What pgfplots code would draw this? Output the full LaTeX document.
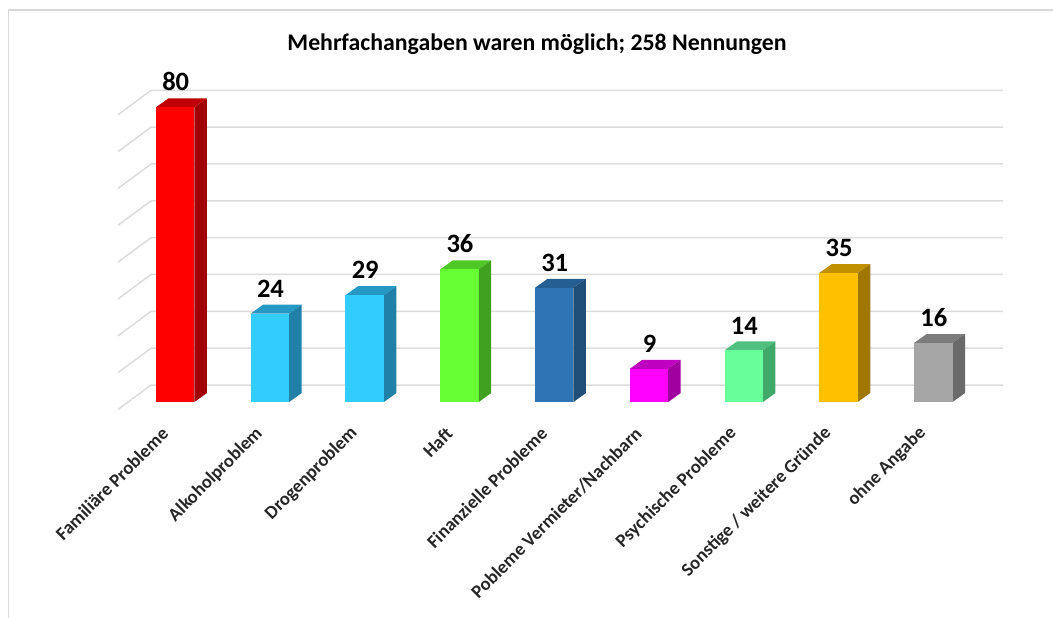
\documentclass[border=0pt]{standalone}
\usepackage{fontspec}
\setmainfont{Carlito}
\usepackage{pgfplots}
\pgfplotsset{compat=1.18}
\definecolor{gridc}{HTML}{DCDCDC}
\definecolor{framec}{HTML}{D9D9D9}
\definecolor{af}{HTML}{FF0000}\definecolor{at}{HTML}{C00000}\definecolor{as}{HTML}{A00000}
\definecolor{bf}{HTML}{33CCFF}\definecolor{bt}{HTML}{2599C4}\definecolor{bs}{HTML}{2080A8}
\definecolor{cf}{HTML}{66FF33}\definecolor{ct}{HTML}{50C828}\definecolor{cs}{HTML}{40A020}
\definecolor{df}{HTML}{2E75B6}\definecolor{dt}{HTML}{255E92}\definecolor{ds}{HTML}{1F4E79}
\definecolor{ef}{HTML}{FF00FF}\definecolor{et}{HTML}{C000C0}\definecolor{es}{HTML}{A000A0}
\definecolor{ff}{HTML}{66FF99}\definecolor{ft}{HTML}{50C080}\definecolor{fs}{HTML}{40A868}
\definecolor{gf}{HTML}{FFC000}\definecolor{gt}{HTML}{C09000}\definecolor{gs}{HTML}{A07800}
\definecolor{hf}{HTML}{A6A6A6}\definecolor{ht}{HTML}{7C7C7C}\definecolor{hs}{HTML}{6A6A6A}
% #1 index, #2 value, #3 colour prefix; offsets: half width .203, depth .132 / 2.44
\newcommand\threedbar[3]{%
  \pgfmathsetmacro\xa{#1-0.203}\pgfmathsetmacro\xb{#1+0.203}%
  \pgfmathsetmacro\xc{#1-0.203+0.132}\pgfmathsetmacro\xd{#1+0.203+0.132}%
  \pgfmathsetmacro\yt{#2+2.44}%
  \addplot[fill=#3t,draw=none,forget plot] coordinates {(\xa,#2) (\xb,#2) (\xd,\yt) (\xc,\yt)};
  \addplot[fill=#3s,draw=none,forget plot] coordinates {(\xb,0) (\xb,#2) (\xd,\yt) (\xd,2.44)};
  \addplot[ybar,bar width=38.5pt,bar shift=0pt,fill=#3f,draw=none,forget plot,
    nodes near coords,point meta=y,
    every node near coord/.append style={font=\fontsize{26.5}{28}\bfseries\selectfont,text=black,anchor=south,yshift=14pt,xshift=0.5pt,inner sep=2pt}]
    coordinates {(#1,#2)};
}
\newcommand\gridl[2]{\addplot[gridc,line width=1.5pt,forget plot] coordinates {(-0.604,#1) (-0.255,#2) (8.737,#2)};}
\begin{document}
\begin{tikzpicture}
\path[use as bounding box] (0,-216pt) rectangle (1053pt,402pt);
\fill[white] (0,-216pt) rectangle (1053pt,402pt);
\begin{axis}[
  at={(0,0)},anchor=south west,
  scale only axis,width=1053pt,height=402pt,
  xmin=-1.849,xmax=9.264,ymin=0,ymax=109.12,
  clip=false,
  /pgf/number format/assume math mode=true,
  axis line style={draw=none},
  major tick length=0pt,
  ytick=\empty,
  xtick={0,1,2,3,4,5,6,7,8},
  xticklabels={Familiäre Probleme,Alkoholproblem,Drogenproblem,Haft,Finanzielle Probleme,Pobleme Vermieter/Nachbarn,Psychische Probleme,Sonstige / weitere Gründe,ohne Angabe},
  xticklabel style={rotate=45,anchor=east,font=\fontsize{18.6}{20}\bfseries\selectfont,text=black!85,xshift=-27.5pt,yshift=-13pt,inner sep=0pt},
  title={Mehrfachangaben waren möglich; 258 Nennungen},
  title style={at={(0.51,0.876)},anchor=center,font=\fontsize{23.8}{26}\bfseries\selectfont,text=black},
]
\gridl{-2.04}{4.61}
\gridl{7.96}{14.61}
\gridl{17.96}{24.61}
\gridl{27.96}{34.61}
\gridl{37.96}{44.61}
\gridl{47.96}{54.61}
\gridl{57.96}{64.61}
\gridl{67.96}{74.61}
\gridl{77.96}{84.61}
\threedbar{0}{80}{a}
\threedbar{1}{24}{b}
\threedbar{2}{29}{b}
\threedbar{3}{36}{c}
\threedbar{4}{31}{d}
\threedbar{5}{9}{e}
\threedbar{6}{14}{f}
\threedbar{7}{35}{g}
\threedbar{8}{16}{h}
\end{axis}
\draw[framec,line width=1.5pt] (8.5pt,-216pt) -- (8.5pt,392pt) -- (1053pt,392pt);
\end{tikzpicture}
\end{document}
